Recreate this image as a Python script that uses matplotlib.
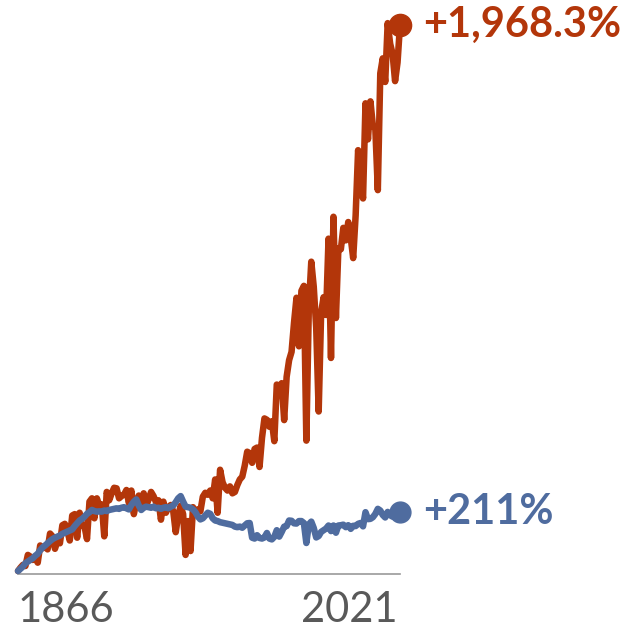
import matplotlib
matplotlib.use("Agg")
import matplotlib.pyplot as plt
import numpy as np

# corn: production (red) vs planted area (blue), % change since 1866
years = list(range(1866, 2022))

production_pct = [
    0, 12, 22, 18, 58, 52, 40, 48, 30, 92,            # 1866-1875
    82, 88, 78, 135, 125, 80, 110, 100, 165, 170,     # 1876-1885
    145, 110, 200, 205, 120, 210, 165, 160, 115, 250, # 1886-1895
    262, 190, 262, 235, 240, 125, 285, 255, 280, 300, # 1896-1905
    298, 262, 270, 275, 292, 245, 290, 205, 248, 272, # 1906-1915
    232, 280, 235, 258, 285, 270, 248, 255, 185, 250, # 1916-1925
    210, 230, 238, 215, 140, 200, 235, 205, 58, 180,  # 1926-1935
    72, 230, 205, 222, 215, 268, 282, 275, 290, 262,  # 1936-1945
    330, 210, 365, 320, 300, 290, 305, 280, 285, 310, # 1946-1955
    330, 340, 380, 430, 425, 390, 440, 445, 375, 480, # 1956-1965
    550, 545, 520, 540, 468, 672, 665, 677, 544, 700, # 1966-1975
    760, 790, 895, 985, 810, 1010, 1028, 470, 950, 1115,     # 1976-1985
    1025, 877, 575, 932, 987, 923, 1198, 768, 1277, 912,     # 1986-1995
    1163, 1160, 1237, 1192, 1258, 1202, 1128, 1282, 1517, 1422,  # 1996-2005
    1343, 1686, 1556, 1693, 1605, 1593, 1373, 1794, 1848, 1763,  # 2006-2015
    1975, 1901, 1864, 1766, 1833, 1968.3,                        # 2016-2021
]

acreage_pct = [
    0, 8, 16, 28, 34, 40, 46, 55, 62, 75,             # 1866-1875
    85, 92, 100, 108, 115, 120, 124, 128, 134, 138,   # 1876-1885
    142, 146, 150, 162, 172, 182, 188, 196, 206, 212, # 1886-1895
    220, 216, 214, 215, 214, 218, 216, 220, 222, 224, # 1896-1905
    226, 224, 228, 230, 226, 222, 238, 250, 258, 236, # 1906-1915
    220, 228, 232, 230, 228, 232, 226, 228, 224, 228, # 1916-1925
    230, 226, 232, 236, 248, 262, 270, 250, 232, 230, # 1926-1935
    228, 222, 212, 196, 186, 190, 200, 210, 206, 190, # 1936-1945
    182, 180, 176, 174, 172, 170, 168, 166, 160, 158, # 1946-1955
    160, 156, 164, 172, 173, 120, 117, 129, 119, 117, # 1956-1965
    121, 137, 117, 114, 123, 147, 124, 141, 160, 162, # 1966-1975
    182, 181, 172, 171, 180, 180, 173, 101, 168, 178, # 1976-1985
    155, 121, 126, 141, 147, 153, 164, 144, 164, 138, # 1986-1995
    164, 165, 167, 158, 165, 152, 163, 162, 170, 173, # 1996-2005
    161, 212, 187, 188, 194, 206, 224, 218, 202, 193, # 2006-2015
    213, 201, 196, 199, 202, 211,                     # 2016-2021
]

prod_label = "+1,968.3%"
acre_label = "+211%"

red = "#b3360a"
blue = "#4f6c9f"

plt.rcParams["font.family"] = ["Lato", "DejaVu Sans"]

fig = plt.figure(figsize=(6.4, 6.4), dpi=100)
# axes box in pixels: x 18..400, y 25..571 (from top)
ax = fig.add_axes([18 / 640, (640 - 571) / 640, 382 / 640, 546 / 640])

ax.plot(years, production_pct, color=red, lw=4.7, solid_capstyle="round",
        solid_joinstyle="round", clip_on=False, zorder=2)
ax.plot(years, acreage_pct, color=blue, lw=4.7, solid_capstyle="round",
        solid_joinstyle="round", clip_on=False, zorder=3)
ax.plot(years[-1], production_pct[-1], "o", ms=16, color=red, clip_on=False, zorder=4)
ax.plot(years[-1], acreage_pct[-1], "o", ms=15, color=blue, clip_on=False, zorder=4)

ax.set_xlim(years[0], years[-1])
ax.set_ylim(0, production_pct[-1])

# end labels
ax.annotate(prod_label, (years[-1], production_pct[-1]), xytext=(23, 0),
            textcoords="offset pixels", ha="left", va="center",
            fontsize=30, fontweight="bold", color=red, annotation_clip=False)
ax.annotate(acre_label, (years[-1], acreage_pct[-1]), xytext=(23, 0),
            textcoords="offset pixels", ha="left", va="center",
            fontsize=30, fontweight="bold", color=blue, annotation_clip=False)

# axis
for s in ["left", "right", "top"]:
    ax.spines[s].set_visible(False)
ax.spines["bottom"].set_color("#999999")
ax.spines["bottom"].set_linewidth(1.2)
ax.spines["bottom"].set_position(("outward", 2.5))
ax.set_xticks([])
ax.set_yticks([])
ax.patch.set_alpha(0)

tr = ax.get_xaxis_transform()
ax.text(years[0], -0.037, str(years[0]), transform=tr, ha="left", va="top",
        fontsize=30, color="#595959")
ax.text(years[-1] - 1, -0.037, str(years[-1]), transform=tr, ha="right", va="top",
        fontsize=30, color="#595959")

fig.savefig("out.png", dpi=100)
